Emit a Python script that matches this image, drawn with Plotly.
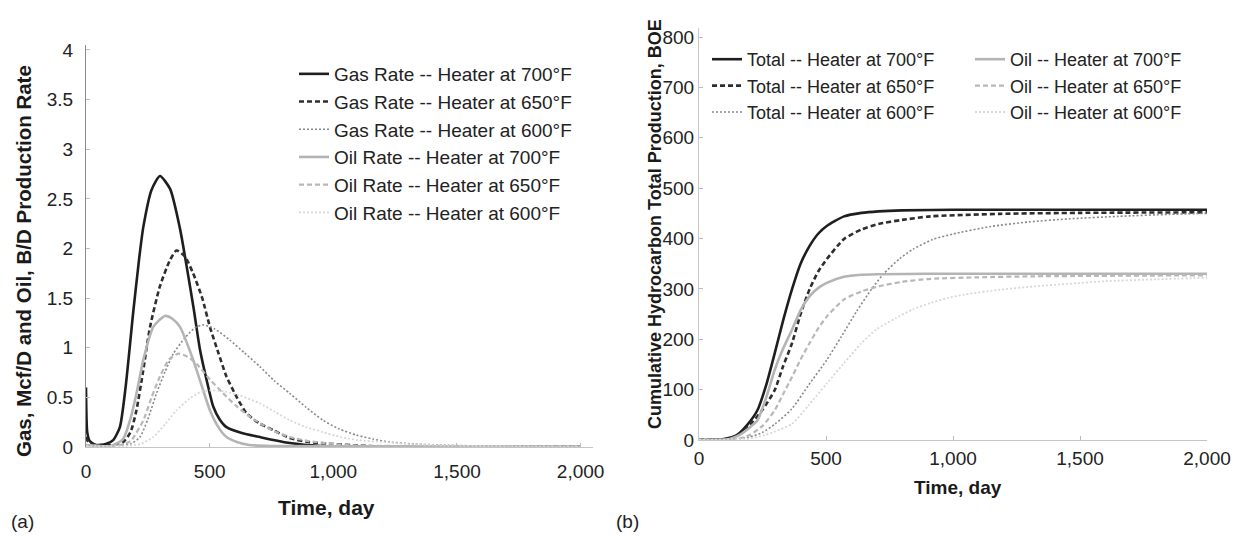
import plotly.graph_objects as go

# ---------------- Panel (a): production rates ----------------
gas700_t = [0, 5, 15, 40, 80, 110, 137, 160, 191, 215, 232, 265, 299, 340, 380, 407, 435, 461, 490, 514, 540, 568, 630, 703, 824, 950, 1100, 2000]
gas700_v = [0.6, 0.15, 0.06, 0.02, 0.03, 0.07, 0.2, 0.6, 1.36, 1.9, 2.22, 2.59, 2.73, 2.6, 2.2, 1.82, 1.4, 0.98, 0.65, 0.41, 0.28, 0.2, 0.14, 0.10, 0.04, 0.01, 0.0, 0.0]

gas650_t = [0, 10, 40, 100, 150, 180, 204, 230, 259, 299, 339, 366, 400, 433, 470, 501, 535, 568, 610, 649, 700, 757, 824, 900, 1000, 1100, 1250, 2000]
gas650_v = [0.1, 0.05, 0.02, 0.02, 0.05, 0.15, 0.37, 0.75, 1.21, 1.62, 1.88, 1.98, 1.92, 1.75, 1.5, 1.21, 0.95, 0.71, 0.5, 0.34, 0.24, 0.17, 0.09, 0.05, 0.03, 0.015, 0.0, 0.0]

gas600_t = [0, 100, 180, 218, 250, 285, 320, 353, 400, 440, 474, 520, 580, 640, 703, 760, 824, 890, 958, 1025, 1094, 1160, 1228, 1330, 1430, 1600, 2000]
gas600_v = [0.02, 0.01, 0.03, 0.1, 0.28, 0.54, 0.76, 0.94, 1.1, 1.2, 1.23, 1.19, 1.08, 0.95, 0.81, 0.67, 0.54, 0.4, 0.27, 0.18, 0.12, 0.08, 0.05, 0.03, 0.02, 0.01, 0.0]

oil700_t = [0, 100, 150, 178, 205, 232, 272, 319, 350, 380, 433, 470, 501, 535, 568, 610, 660, 750, 2000]
oil700_v = [0.02, 0.01, 0.08, 0.27, 0.55, 0.88, 1.21, 1.32, 1.29, 1.21, 0.88, 0.6, 0.37, 0.2, 0.10, 0.05, 0.02, 0.01, 0.0]

oil650_t = [0, 120, 180, 232, 265, 299, 335, 373, 410, 450, 501, 555, 609, 655, 703, 760, 824, 900, 1000, 1100, 2000]
oil650_v = [0.02, 0.01, 0.06, 0.27, 0.5, 0.71, 0.88, 0.94, 0.91, 0.83, 0.68, 0.54, 0.41, 0.32, 0.24, 0.16, 0.10, 0.06, 0.03, 0.015, 0.0]

oil600_t = [0, 150, 220, 272, 320, 366, 420, 460, 501, 560, 620, 703, 760, 824, 890, 958, 1030, 1100, 1200, 1300, 1450, 2000]
oil600_v = [0.01, 0.01, 0.03, 0.1, 0.23, 0.37, 0.49, 0.55, 0.57, 0.56, 0.52, 0.44, 0.36, 0.27, 0.2, 0.15, 0.1, 0.07, 0.05, 0.03, 0.015, 0.0]

# ---------------- Panel (b): cumulative production ----------------
tot700_t = [0, 100, 150, 190, 230, 265, 298, 330, 366, 400, 435, 470, 503, 571, 640, 707, 800, 1000, 2000]
tot700_v = [0, 2, 10, 30, 59, 110, 172, 235, 299, 350, 385, 410, 425, 444, 451, 454, 456, 457, 457]

tot650_t = [0, 120, 162, 200, 250, 298, 330, 366, 400, 435, 470, 503, 571, 640, 707, 800, 911, 1184, 1500, 2000]
tot650_v = [0, 3, 12, 30, 60, 99, 145, 192, 250, 299, 335, 359, 399, 418, 429, 437, 444, 449, 451, 452]

tot600_t = [0, 150, 200, 250, 300, 366, 430, 503, 560, 620, 680, 727, 790, 843, 920, 1000, 1150, 1300, 1456, 1650, 1850, 2000]
tot600_v = [0, 2, 6, 15, 32, 62, 108, 159, 205, 255, 300, 330, 360, 379, 398, 409, 424, 433, 439, 444, 448, 450]

cum_oil700_t = [0, 120, 160, 200, 230, 265, 298, 330, 366, 400, 435, 470, 503, 571, 640, 707, 900, 2000]
cum_oil700_v = [0, 2, 10, 25, 39, 85, 139, 180, 219, 258, 285, 302, 312, 324, 328, 329, 330, 330]

cum_oil650_t = [0, 150, 200, 250, 298, 330, 366, 400, 435, 470, 503, 571, 640, 707, 800, 911, 1100, 1320, 2000]
cum_oil650_v = [0, 2, 10, 28, 59, 90, 125, 160, 192, 222, 245, 279, 295, 305, 314, 320, 323, 325, 327]

cum_oil600_t = [0, 200, 260, 300, 366, 430, 503, 570, 639, 700, 775, 840, 911, 980, 1048, 1180, 1320, 1450, 1593, 1800, 2000]
cum_oil600_v = [0, 3, 10, 17, 32, 68, 112, 152, 192, 220, 242, 259, 272, 282, 289, 298, 305, 310, 315, 319, 322]

tick_vals_x = [0, 500, 1000, 1500, 2000]

FONT = "Liberation Sans, Arial, sans-serif"

styles = {
    "700s": dict(color="#1e1e1e", width=2.6, dash="solid"),
    "650s": dict(color="#2e2e2e", width=2.6, dash="5px,3px"),
    "600s": dict(color="#8a8a8a", width=1.6, dash="2px,2px"),
    "700o": dict(color="#b4b4b4", width=2.6, dash="solid"),
    "650o": dict(color="#b8b8b8", width=2.2, dash="5px,3px"),
    "600o": dict(color="#d8d8d8", width=1.8, dash="2px,2px"),
}

fig = go.Figure()

left = [
    ("Gas Rate -- Heater at 700°F", gas700_t, gas700_v, "700s"),
    ("Gas Rate -- Heater at 650°F", gas650_t, gas650_v, "650s"),
    ("Gas Rate -- Heater at 600°F", gas600_t, gas600_v, "600s"),
    ("Oil Rate -- Heater at 700°F", oil700_t, oil700_v, "700o"),
    ("Oil Rate -- Heater at 650°F", oil650_t, oil650_v, "650o"),
    ("Oil Rate -- Heater at 600°F", oil600_t, oil600_v, "600o"),
]
for rank, (name, t, v, st) in enumerate(left):
    fig.add_trace(go.Scatter(x=t, y=v, mode="lines", name=name,
                             line=dict(shape="spline", smoothing=0.6, **styles[st]),
                             xaxis="x", yaxis="y", legend="legend", legendrank=rank + 1))

right_total = [
    ("Total -- Heater at 700°F", tot700_t, tot700_v, "700s"),
    ("Total -- Heater at 650°F", tot650_t, tot650_v, "650s"),
    ("Total -- Heater at 600°F", tot600_t, tot600_v, "600s"),
]
right_oil = [
    ("Oil -- Heater at 700°F", cum_oil700_t, cum_oil700_v, "700o"),
    ("Oil -- Heater at 650°F", cum_oil650_t, cum_oil650_v, "650o"),
    ("Oil -- Heater at 600°F", cum_oil600_t, cum_oil600_v, "600o"),
]
for rank, (name, t, v, st) in enumerate(right_total):
    fig.add_trace(go.Scatter(x=t, y=v, mode="lines", name=name,
                             line=dict(shape="spline", smoothing=0.6, **styles[st]),
                             xaxis="x2", yaxis="y2", legend="legend2", legendrank=rank + 1))
for rank, (name, t, v, st) in enumerate(right_oil):
    fig.add_trace(go.Scatter(x=t, y=v, mode="lines", name=name,
                             line=dict(shape="spline", smoothing=0.6, **styles[st]),
                             xaxis="x2", yaxis="y2", legend="legend3", legendrank=rank + 1))

# page has an 8px body margin: figure is 1230x524 placed at (8, 8)
OFF = 8
W, H = 1246 - 2 * OFF, 540 - 2 * OFF


def px(x):
    return (x - OFF) / W


def py(y):
    return 1 - (y - OFF) / H


def axis_common(size):
    return dict(showgrid=False, zeroline=False, showline=True, ticks="inside", ticklen=4,
                tickcolor="#bbbbbb", automargin=False,
                tickfont=dict(family=FONT, size=size, color="#222222"))


def legend_common(size):
    return dict(bgcolor="rgba(0,0,0,0)", font=dict(family=FONT, size=size, color="#222222"),
                xanchor="left", yanchor="top", itemwidth=30, traceorder="normal")


fig.update_layout(
    width=W, height=H,
    margin=dict(l=0, r=0, t=0, b=0, autoexpand=False),
    paper_bgcolor="white", plot_bgcolor="white",
    showlegend=True,
    xaxis=dict(domain=[px(86), px(593)], range=[0, 2050], tickvals=tick_vals_x,
               tickformat=",", linecolor="#c4c4c4", anchor="y", ticklabelstandoff=7, **axis_common(19)),
    yaxis=dict(domain=[py(447), py(45)], range=[0, 4.05], dtick=0.5, linecolor="#8c8c8c",
               anchor="x", ticklabelstandoff=8, **axis_common(19)),
    xaxis2=dict(domain=[px(699), px(1207)], range=[0, 2000], tickvals=tick_vals_x,
                tickformat=",", linecolor="#c4c4c4", anchor="y2", ticklabelstandoff=1, **axis_common(19)),
    yaxis2=dict(domain=[py(440), py(28)], range=[0, 818], dtick=100, linecolor="#c8c8c8",
                anchor="x2", ticklabelstandoff=0, **axis_common(19)),
    legend=dict(x=px(294), y=py(55), **legend_common(19)),
    legend2=dict(x=px(707), y=py(41), **legend_common(18)),
    legend3=dict(x=px(970), y=py(41), **legend_common(18)),
)

annotations = [
    dict(text="<b>Gas, Mcf/D and Oil, B/D Production Rate</b>", x=px(23), y=py(261), textangle=-90,
         xanchor="center", font=dict(family=FONT, size=20.5, color="#1a1a1a")),
    dict(text="<b>Cumulative Hydrocarbon Total Production, BOE</b>", x=px(655), y=py(224), textangle=-90,
         xanchor="center", font=dict(family=FONT, size=18, color="#1a1a1a")),
    dict(text="<b>Time, day</b>", x=px(326), y=py(507), xanchor="center",
         font=dict(family=FONT, size=21, color="#1a1a1a")),
    dict(text="<b>Time, day</b>", x=px(958), y=py(487), xanchor="center",
         font=dict(family=FONT, size=19, color="#1a1a1a")),
    dict(text="(a)", x=px(9), y=py(521), xanchor="left", font=dict(family=FONT, size=19, color="#222222")),
    dict(text="(b)", x=px(627), y=py(521), xanchor="center", font=dict(family=FONT, size=19, color="#222222")),
]
for a in annotations:
    a.update(showarrow=False, xref="paper", yref="paper", yanchor="middle")
fig.update_layout(annotations=annotations)

fig.write_html("out.html")
